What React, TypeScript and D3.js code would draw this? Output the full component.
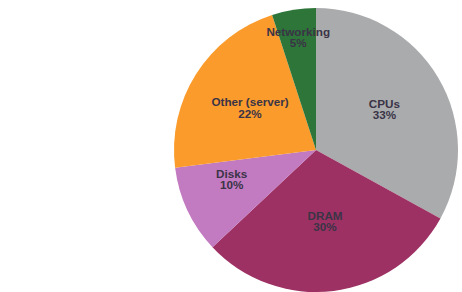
import { useEffect, useRef } from "react";
import * as d3 from "d3";

// Server cost breakdown, clockwise from 12 o'clock
const categories = ["CPUs", "DRAM", "Disks", "Other (server)", "Networking"];
const shares = [33, 30, 10, 22, 5];
const colors = ["#aaabad", "#9e3163", "#c27ac1", "#fa9b2c", "#2d7539"];

const App = () => {
  const svgRef = useRef<SVGSVGElement>(null);
  const width = 462;
  const height = 292;

  useEffect(() => {
    if (!svgRef.current) return;
    const svg = d3.select(svgRef.current);
    svg.selectAll("*").remove();

    const radius = 142;
    const g = svg.append("g").attr("transform", "translate(316,150)");

    const pie = d3
      .pie<number>()
      .sort(null)
      .value((d) => d);
    const arcs = pie(shares);

    const arc = d3.arc<d3.PieArcDatum<number>>().innerRadius(0).outerRadius(radius);

    g.selectAll("path")
      .data(arcs)
      .enter()
      .append("path")
      .attr("d", arc)
      .attr("fill", (_, i) => colors[i]);

    // label distance (fraction of radius) and small angle tweak, per slice
    const labelFrac = [0.56, 0.51, 0.63, 0.55, 0.8];
    const angleTweak = [0, 0, 0.1, 0, 0];

    const labels = g
      .selectAll("g.lbl")
      .data(arcs)
      .enter()
      .append("g")
      .attr("class", "lbl")
      .attr("transform", (d, i) => {
        const r = radius * labelFrac[i];
        const a = (d.startAngle + d.endAngle) / 2 + angleTweak[i];
        return `translate(${Math.sin(a) * r},${-Math.cos(a) * r})`;
      });

    const style = (sel: d3.Selection<SVGTextElement, any, any, any>) =>
      sel
        .attr("text-anchor", "middle")
        .attr("font-family", "'Liberation Sans', Arial, sans-serif")
        .attr("font-weight", "bold")
        .attr("font-size", 11.7)
        .attr("fill", "#3a3446");

    labels
      .append("text")
      .call(style)
      .attr("y", -2)
      .text((_, i) => categories[i]);
    labels
      .append("text")
      .call(style)
      .attr("y", 9.5)
      .text((d) => `${d.data}%`);
  }, []);

  return (
    <svg
      ref={svgRef}
      width={width}
      height={height}
      viewBox={`0 0 ${width} ${height}`}
      style={{ position: "absolute", left: 0, top: 0, background: "#fff" }}
    />
  );
};

export default App;
